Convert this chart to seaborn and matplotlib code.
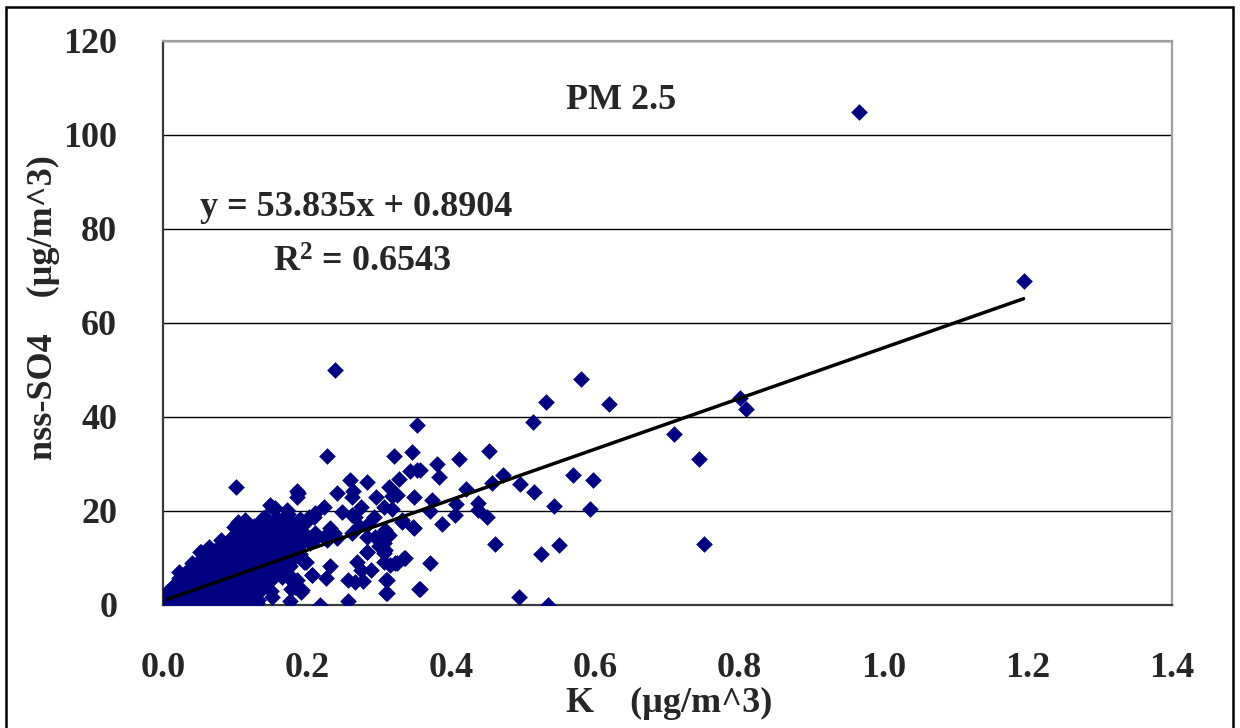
import numpy as np
import pandas as pd
import seaborn as sns
import matplotlib.pyplot as plt
from matplotlib.patches import Rectangle
from matplotlib.ticker import FormatStrFormatter

# ---------------- data ----------------
# dense cluster near the origin (K, nss-SO4)
blob_k = [
    0.006, 0.006, 0.006,
    0.014, 0.014, 0.014, 0.014,
    0.022, 0.022, 0.022, 0.022, 0.022,
    0.030, 0.030, 0.030, 0.030, 0.030, 0.030,
    0.038, 0.038, 0.038, 0.038, 0.038, 0.038,
    0.046, 0.046, 0.046, 0.046, 0.046, 0.046, 0.046,
    0.054, 0.054, 0.054, 0.054, 0.054, 0.054, 0.054,
    0.062, 0.062, 0.062, 0.062, 0.062, 0.062, 0.062, 0.062,
    0.070, 0.070, 0.070, 0.070, 0.070, 0.070, 0.070, 0.070,
    0.078, 0.078, 0.078, 0.078, 0.078, 0.078, 0.078, 0.078, 0.078,
    0.086, 0.086, 0.086, 0.086, 0.086, 0.086, 0.086, 0.086, 0.086,
    0.094, 0.094, 0.094, 0.094, 0.094, 0.094, 0.094, 0.094, 0.094, 0.094,
    0.102, 0.102, 0.102, 0.102, 0.102, 0.102, 0.102, 0.102, 0.102, 0.102,
    0.110, 0.110, 0.110, 0.110, 0.110, 0.110, 0.110, 0.110, 0.110, 0.110, 0.110,
    0.118, 0.118, 0.118, 0.118, 0.118, 0.118, 0.118, 0.118, 0.118, 0.118,
    0.126, 0.126, 0.126, 0.126, 0.126, 0.126, 0.126, 0.126, 0.126, 0.126,
    0.134, 0.134, 0.134, 0.134, 0.134, 0.134, 0.134, 0.134, 0.134, 0.134,
    0.142, 0.142, 0.142, 0.142, 0.142, 0.142, 0.142, 0.142,
    0.150, 0.150, 0.150, 0.150, 0.150, 0.150, 0.150, 0.150, 0.150,
    0.158, 0.158, 0.158, 0.158, 0.158, 0.158, 0.158,
    0.166, 0.166, 0.166, 0.166, 0.166, 0.166, 0.166,
    0.174, 0.174, 0.174, 0.174, 0.174, 0.174,
    0.182, 0.182, 0.182, 0.182, 0.182,
    0.190, 0.190, 0.190, 0.190,
]
blob_so4 = [
    0.3, 1.5, 2.8,
    0.2, 1.2, 2.6, 4.0,
    0.4, 1.8, 3.2, 4.6, 5.8,
    0.1, 1.4, 2.9, 4.3, 5.6, 6.8,
    0.5, 2.0, 3.5, 4.9, 6.2, 7.6,
    0.2, 1.6, 3.0, 4.6, 6.0, 7.4, 8.8,
    0.6, 2.1, 3.6, 5.1, 6.6, 8.0, 9.6,
    0.3, 1.8, 3.3, 4.8, 6.3, 7.9, 9.3, 10.6,
    0.7, 2.2, 3.8, 5.4, 6.9, 8.5, 10.0, 11.5,
    0.2, 1.7, 3.2, 4.7, 6.2, 7.7, 9.2, 10.8, 12.3,
    0.5, 2.0, 3.6, 5.2, 6.8, 8.4, 10.0, 11.6, 13.0,
    0.3, 1.9, 3.5, 5.0, 6.6, 8.1, 9.7, 11.2, 12.8, 14.2,
    0.6, 2.3, 4.0, 5.6, 7.2, 8.8, 10.4, 12.0, 13.6, 15.0,
    0.4, 2.1, 3.7, 5.3, 7.0, 8.6, 10.1, 11.7, 13.3, 14.8, 16.2,
    0.8, 2.6, 4.4, 6.1, 7.8, 9.4, 11.0, 12.6, 14.2, 15.8,
    2.0, 3.6, 5.4, 7.2, 8.9, 10.5, 12.2, 13.8, 15.3, 16.8,
    3.0, 4.9, 6.7, 8.4, 10.1, 11.7, 13.3, 14.9, 16.4, 17.6,
    4.5, 6.3, 8.0, 9.7, 11.4, 13.0, 14.6, 16.2,
    3.0, 5.4, 7.2, 9.0, 10.8, 12.4, 14.1, 15.7, 17.3,
    6.8, 8.6, 10.3, 12.0, 13.7, 15.3, 18.5,
    7.5, 9.4, 11.2, 12.9, 14.6, 16.3, 18.0,
    9.0, 10.7, 12.5, 14.2, 17.5, 19.3,
    10.0, 11.8, 13.6, 15.2, 17.2,
    10.9, 12.7, 14.0, 18.2,
]

# scattered points with K below ~0.36
mid_k = [0.238, 0.228, 0.321, 0.345, 0.101, 0.186, 0.186, 0.259, 0.283, 0.263,
         0.241, 0.296, 0.313, 0.318, 0.325, 0.328, 0.343, 0.353, 0.348, 0.224,
         0.274, 0.248, 0.262, 0.293, 0.307, 0.318, 0.332, 0.347, 0.335, 0.355,
         0.310, 0.309, 0.267, 0.257, 0.278, 0.288, 0.269, 0.274, 0.322, 0.306,
         0.315, 0.306, 0.299, 0.283, 0.307, 0.304, 0.226, 0.231, 0.256, 0.218,
         0.176, 0.151, 0.191, 0.198, 0.207, 0.177, 0.223, 0.211, 0.193, 0.169,
         0.156, 0.132, 0.114, 0.099, 0.064, 0.052, 0.022, 0.142, 0.156, 0.172,
         0.202, 0.211, 0.157, 0.188, 0.241, 0.262, 0.267, 0.272, 0.283, 0.294,
         0.308, 0.313, 0.187, 0.262, 0.209, 0.197, 0.195, 0.176, 0.232, 0.237,
         0.227, 0.213, 0.204, 0.283, 0.301, 0.331, 0.348, 0.308, 0.283, 0.325,
         0.336, 0.195, 0.206, 0.176, 0.186, 0.193, 0.311, 0.311, 0.128, 0.165,
         0.183, 0.139, 0.153, 0.114, 0.040, 0.051, 0.081, 0.104, 0.174, 0.178,
         0.130, 0.149]
mid_so4 = [50.0, 31.7, 31.7, 32.5, 25.2, 24.2, 23.0, 26.6, 26.2, 24.3,
           23.8, 23.0, 25.2, 23.2, 23.3, 26.8, 28.4, 28.7, 23.0, 20.9,
           20.9, 19.8, 19.1, 18.8, 20.9, 20.4, 17.6, 16.5, 9.9, 3.5,
           2.5, 5.3, 4.8, 5.3, 5.0, 7.4, 9.2, 7.4, 8.9, 9.2,
           8.5, 11.0, 12.6, 11.2, 13.1, 13.5, 5.7, 8.2, 0.9, 0.0,
           0.9, 1.8, 2.8, 9.2, 6.4, 6.0, 14.5, 15.3, 14.5, 12.4,
           8.2, 1.1, 18.0, 16.5, 12.3, 11.3, 7.1, 18.8, 20.6, 20.2,
           18.8, 19.5, 16.7, 16.7, 14.2, 15.3, 18.8, 16.7, 14.5, 14.5,
           16.0, 14.9, 23.8, 23.0, 18.8, 17.4, 15.3, 16.0, 16.3, 15.3,
           13.8, 14.5, 13.1, 17.0, 14.5, 18.1, 16.3, 11.7, 11.3, 8.9,
           9.9, 9.2, 6.4, 8.2, 5.3, 3.2, 5.3, 2.5, 0.7, 6.0,
           3.9, 18.4, 20.6, 17.7, 8.9, 11.3, 13.8, 17.7, 5.9, 3.5,
           0.5, 21.3]

# scattered points with K above ~0.35
high_k = [0.580, 0.532, 0.619, 0.513, 0.801, 0.809, 0.709, 0.743, 0.751, 0.452,
          0.410, 0.380, 0.383, 0.357, 0.352, 0.472, 0.457, 0.420, 0.495, 0.515,
          0.569, 0.596, 0.373, 0.371, 0.407, 0.405, 0.387, 0.437, 0.437, 0.450,
          0.542, 0.592, 0.460, 0.525, 0.550, 0.371, 0.357, 0.494, 0.534,
          0.966, 1.194]
high_so4 = [48.1, 43.1, 42.8, 38.9, 44.0, 41.6, 36.3, 31.0, 13.0, 32.8,
            31.0, 30.1, 27.2, 28.7, 38.2, 27.6, 26.0, 24.6, 25.7, 24.1,
            27.6, 26.5, 22.3, 19.9, 21.5, 19.1, 17.2, 21.6, 20.2, 18.8,
            21.1, 20.4, 13.0, 10.8, 12.7, 8.9, 3.5, 1.6, 0.0,
            104.8, 69.0]

# linear trend shown in the chart
slope = 53.835
intercept = 0.8904
r_squared = 0.6543

x_ticks = [0.0, 0.2, 0.4, 0.6, 0.8, 1.0, 1.2, 1.4]
y_ticks = [0, 20, 40, 60, 80, 100, 120]

df = pd.DataFrame({
    "K": blob_k + mid_k + high_k,
    "SO4": blob_so4 + mid_so4 + high_so4,
})

# ---------------- drawing ----------------
sns.set_theme(style="white")
plt.rcParams["font.family"] = ["Liberation Serif", "DejaVu Serif"]
plt.rcParams["font.weight"] = "bold"
plt.rcParams["mathtext.fontset"] = "custom"
plt.rcParams["mathtext.rm"] = "Liberation Serif:bold"
plt.rcParams["mathtext.bf"] = "Liberation Serif:bold"
plt.rcParams["mathtext.it"] = "Liberation Serif:bold"

fig = plt.figure(figsize=(12.4, 7.28), dpi=100)
ax = fig.add_axes([0.1315, 0.169, 0.8137, 0.7747])

sns.scatterplot(data=df, x="K", y="SO4", marker="D", s=72, color="#000080",
                linewidth=0, legend=False, ax=ax, zorder=3)

xs = np.array([df["K"].min(), df["K"].max()])
ax.plot(xs, slope * xs + intercept, color="black", lw=2.5, zorder=4,
        solid_capstyle="round")

ax.set_xlim(0, 1.4)
ax.set_ylim(0, 120)
ax.set_xticks(x_ticks)
ax.set_yticks(y_ticks)
ax.xaxis.set_major_formatter(FormatStrFormatter("%.1f"))

ax.yaxis.grid(True, color="black", lw=1.0)
ax.xaxis.grid(False)
ax.set_axisbelow(True)

for side in ["left", "bottom"]:
    ax.spines[side].set_color("#3a3a3a")
    ax.spines[side].set_linewidth(1.6)
for side in ["top", "right"]:
    ax.spines[side].set_color("#a0a0a0")
    ax.spines[side].set_linewidth(1.6)

ax.tick_params(axis="both", direction="in", length=9, width=1.3,
               color="#3a3a3a", labelsize=26)
ax.tick_params(axis="y", pad=33)
ax.tick_params(axis="x", pad=34)
for lab in ax.get_xticklabels() + ax.get_yticklabels():
    lab.set_fontweight("bold")

ax.set_xlabel("K    (µg/m^3)", fontsize=26, fontweight="bold")
ax.set_ylabel("nss-SO4    (µg/m^3)", fontsize=26, fontweight="bold")
ax.xaxis.set_label_coords(0.502, -0.174)
ax.xaxis.label.set_verticalalignment("center")
ax.yaxis.set_label_coords(-0.119, 0.527)
ax.yaxis.label.set_verticalalignment("center")
ax.yaxis.label.set_horizontalalignment("center")

ax.text(0.635, 107.4, "PM 2.5", fontsize=26, fontweight="bold",
        ha="center", va="center")
ax.text(0.051, 84.5, f"y = {slope}x + {intercept}", fontsize=26,
        fontweight="bold", ha="left", va="center")
ax.text(0.153, 72.8, "R$^{2}$" + f" = {r_squared}", fontsize=26,
        fontweight="bold", ha="left", va="center")

fig.add_artist(Rectangle((6 / 1240, -0.05), (1233 - 6) / 1240, 1 - 7 / 728 + 0.05,
                         transform=fig.transFigure, fill=False,
                         edgecolor="black", lw=1.8))

fig.savefig("out.png", dpi=100)
